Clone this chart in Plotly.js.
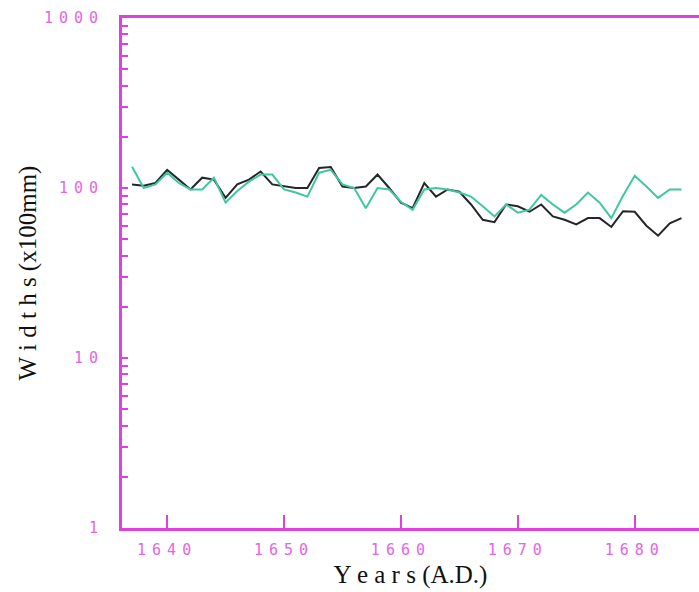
<!DOCTYPE html>
<html>
<head>
<meta charset="utf-8">
<script src="https://cdn.plot.ly/plotly-3.0.1.min.js"></script>
<style>
  html, body { margin: 0; padding: 0; background: #ffffff; }
  #chart { width: 699px; height: 592px; }
  .xtick text, .ytick text { letter-spacing: 6px; }
</style>
</head>
<body>
<div id="chart"></div>
<script>
// ---- data ----
const years = [1637,1638,1639,1640,1641,1642,1643,1644,1645,1646,1647,1648,1649,1650,1651,1652,1653,1654,1655,1656,1657,1658,1659,1660,1661,1662,1663,1664,1665,1666,1667,1668,1669,1670,1671,1672,1673,1674,1675,1676,1677,1678,1679,1680,1681,1682,1683,1684];
const blackWidths = [105,103,107,128,112,98,115,112,87.5,105,112,125,105,102,100,100,131,133,102,100,102,120,100,82,76,107,89,98,95,80,65,63,80,78,72.5,80,68,65,61,66.5,66.5,59,73,72.5,60,52.4,62,66.5];
const greenWidths = [133.5,100,105,123,107,98,98,115,82,96,109,120,120,98,94,89,123,128,105,100,76,100,98,83,74.5,98,100,98,94,89,78,68,80,71.6,74.5,91,80,71.6,80,94,82,66.5,90,118,102,87.5,98,98];

const xTickVals = [1640,1650,1660,1670,1680];
const xTickText = ["1640","1650","1660","1670","1680"];
const yDecades = [1,10,100,1000];
const yDecadeText = ["1","10","100","1000"];

// minor ticks (2..9 in each decade) get empty labels
const yTickVals = [];
const yTickText = [];
for (let d = 0; d < yDecades.length; d++) {
  yTickVals.push(yDecades[d]);
  yTickText.push(yDecadeText[d]);
  if (d < yDecades.length - 1) {
    for (let m = 2; m <= 9; m++) { yTickVals.push(m * yDecades[d]); yTickText.push(""); }
  }
}

const magenta = "#e040e0";
const labelMagenta = "#e466e4";

const traces = [
  { x: years, y: blackWidths, type: "scatter", mode: "lines",
    line: { color: "#262626", width: 2 }, name: "black", showlegend: false },
  { x: years, y: greenWidths, type: "scatter", mode: "lines",
    line: { color: "#3fc7a2", width: 2 }, name: "green", showlegend: false }
];

const layout = {
  width: 699, height: 592,
  margin: { l: 122, r: 0, t: 18, b: 64 },
  paper_bgcolor: "#ffffff", plot_bgcolor: "#ffffff",
  showlegend: false,
  xaxis: {
    range: [1636.14, 1685.5],
    showline: true, linecolor: magenta, linewidth: 3, mirror: true,
    ticks: "inside", ticklen: 13, tickwidth: 2, tickcolor: magenta,
    tickmode: "array", tickvals: xTickVals, ticktext: xTickText,
    tickfont: { family: "DejaVu Sans Mono", size: 15, color: labelMagenta },
    ticklabelstandoff: 6,
    showgrid: false, zeroline: false,
    title: { text: "Y e a r s (A.D.)", standoff: 8,
             font: { family: "Liberation Serif", size: 25, color: "#111111" } }
  },
  yaxis: {
    type: "log", range: [0, 3],
    showline: true, linecolor: magenta, linewidth: 3, mirror: false,
    ticks: "inside", ticklen: 6, tickwidth: 2, tickcolor: magenta,
    tickmode: "array", tickvals: yTickVals, ticktext: yTickText,
    tickfont: { family: "DejaVu Sans Mono", size: 15, color: labelMagenta },
    ticklabelstandoff: 12,
    showgrid: false, zeroline: false,
    title: { text: "W i d t h s (x100mm)", standoff: 1,
             font: { family: "Liberation Serif", size: 25, color: "#111111" } }
  }
};

Plotly.newPlot("chart", traces, layout, { staticPlot: true, displayModeBar: false });
</script>
</body>
</html>
